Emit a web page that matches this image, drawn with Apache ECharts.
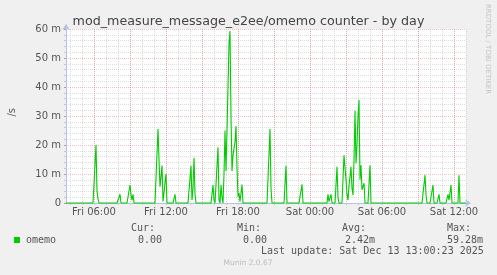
<!DOCTYPE html>
<html>
<head>
<meta charset="utf-8">
<script src="https://cdn.jsdelivr.net/npm/echarts@6/dist/echarts.min.js"></script>
<style>
html,body{margin:0;padding:0;background:#f0f0f0;}
#c{width:497px;height:275px;}
</style>
</head>
<body>
<div id="c"></div>
<script>
// ---- data (values in milli-units per second, "m") ----
const startHour = 3 + 40 / 60;      // Fri 03:40, hours from Fri 00:00
const endHour = 37;                 // Sat 13:00
const stepMinutes = 5;              // one sample every 5 minutes
const spikeSteps = [30,31,32,54,64,65,66,67,92,93,94,95,96,97,98,99,100,109,125,126,127,128,129,
  147,148,152,153,155,156,158,159,160,161,162,163,164,165,166,167,168,169,170,171,172,173,174,176,
  204,205,220,236,262,263,264,265,271,272,278,279,280,281,282,283,284,285,286,287,288,289,290,291,
  292,293,294,295,296,297,298,304,359,360,367,373,382,383,384,385,393];
const spikeValues = [20,4,1.5,3,6.2,3,1,3,25.5,15,5.6,9,12.9,0.5,3.5,7,10,3,12.8,1,5,15.6,3,
  6.2,1,19.2,1,6.2,2,10,25,11,25,40,55,59.28,30,11,16.5,17,21,26.5,12,2.2,3.4,0.5,6.4,
  25.5,5,12.8,6.4,3,0.5,1,3,12.5,2,16.5,16,8,3,1,6,9,12.5,5,2.8,15,31.8,13.6,20,
  30,35.5,8,13,4.5,5,6.8,13,9.6,3,6.2,3,3,1,1,6.2,9.6];
const labelHours = [6, 12, 18, 24, 30, 36];
const labelTexts = ['Fri 06:00', 'Fri 12:00', 'Fri 18:00', 'Sat 00:00', 'Sat 06:00', 'Sat 12:00'];
const majorGridHours = [6, 9, 12, 15, 18, 21, 24, 27, 30, 33, 36];
const minorGridHours = [4,5,6,7,8,9,10,11,12,13,14,15,16,17,18,19,20,21,22,23,24,25,26,27,28,29,30,31,32,33,34,35,36,37];
const statHeads = ['Cur:', 'Min:', 'Avg:', 'Max:'];
const statValues = ['0.00', '0.00', '2.42m', '59.28m'];
const seriesName = 'omemo';
const titleText = 'mod_measure_message_e2ee/omemo counter - by day';
const lastUpdate = 'Last update: Sat Dec 13 13:00:23 2025';

// ---- build series ----
const totalSteps = Math.round((endHour - startHour) * 60 / stepMinutes);
const values = new Array(totalSteps + 1).fill(0);
spikeSteps.forEach((s, k) => { values[s] = spikeValues[k]; });
const seriesData = values.map((v, i) => [startHour + i * stepMinutes / 60, v]);

const chart = echarts.init(document.getElementById('c'), null, {renderer: 'canvas'});
const sans = 'DejaVu Sans';
const mono = 'DejaVu Sans Mono';
const txtColor = '#555';
const axisBlue = '#b4bfee';
const minorGrid = {color: 'rgba(150,150,150,0.32)', type: [1, 1], width: 1};
const majorGrid = {color: 'rgba(225,100,100,0.42)', type: [1, 1], width: 1};

const statX = [131, 237, 342, 447];
const valX = [138, 243, 345, 447];
const graphics = [
  {type: 'text', left: 7, top: 108, rotation: Math.PI / 2, style: {text: '/s', font: '10px ' + sans, fill: txtColor}},
  {type: 'text', x: 491, y: 4, rotation: -Math.PI / 2, style: {text: 'RRDTOOL / TOBI OETIKER', font: '7px ' + sans, fill: '#c4c4c4'}},
  {type: 'rect', shape: {x: 14, y: 237, width: 6, height: 6}, style: {fill: '#00cc00'}},
  {type: 'text', x: 26, y: 240, style: {text: seriesName, font: '10px ' + mono, fill: txtColor, verticalAlign: 'middle'}},
  {type: 'text', x: 261, y: 251, style: {text: lastUpdate, font: '10px ' + mono, fill: txtColor, verticalAlign: 'middle'}},
  {type: 'text', x: 248, y: 263, style: {text: 'Munin 2.0.67', font: '7.5px ' + sans, fill: '#bbbbbb', align: 'center', verticalAlign: 'middle'}}
];
statHeads.forEach((h, k) => {
  graphics.push({type: 'text', x: statX[k], y: 228, style: {text: h, font: '10px ' + mono, fill: txtColor, verticalAlign: 'middle'}});
  graphics.push({type: 'text', x: valX[k], y: 240, style: {text: statValues[k], font: '10px ' + mono, fill: txtColor, verticalAlign: 'middle'}});
});

chart.setOption({
  backgroundColor: '#f0f0f0',
  animation: false,
  title: {
    text: titleText, left: 'center', top: 10,
    textStyle: {fontFamily: sans, fontSize: 12.7, fontWeight: 'normal', color: '#444'}
  },
  grid: {left: 66, right: 31, top: 29, bottom: 72, show: true, backgroundColor: '#ffffff', borderWidth: 0},
  xAxis: [
    {
      type: 'value', min: startHour, max: endHour, position: 'bottom',
      axisLine: {show: true, onZero: false, lineStyle: {color: axisBlue, width: 1}, symbol: ['none', 'arrow'], symbolSize: [6, 6], symbolOffset: [0, 5]},
      axisTick: {show: true, customValues: minorGridHours, length: 2, lineStyle: {color: '#c8c8c8'}},
      axisLabel: {
        customValues: labelHours, margin: 4,
        formatter: v => { const k = labelHours.indexOf(Math.round(v)); return k >= 0 ? labelTexts[k] : ''; },
        fontFamily: sans, fontSize: 10, color: txtColor
      },
      splitLine: {show: true, lineStyle: minorGrid}
    },
    {
      type: 'value', min: startHour, max: endHour, position: 'bottom',
      axisLine: {show: false}, axisLabel: {show: false},
      axisTick: {show: false, customValues: majorGridHours},
      splitLine: {show: true, lineStyle: majorGrid}
    }
  ],
  yAxis: {
    type: 'value', min: 0, max: 60, interval: 10,
    axisLine: {show: true, lineStyle: {color: axisBlue, width: 1}, symbol: ['none', 'arrow'], symbolSize: [6, 6], symbolOffset: [0, 5]},
    axisTick: {show: true, length: 2, lineStyle: {color: '#d09090'}},
    minorTick: {show: true, splitNumber: 5, length: 2, lineStyle: {color: '#c8c8c8'}},
    axisLabel: {formatter: v => v === 0 ? '0' : v + ' m', fontFamily: sans, fontSize: 10, color: txtColor, margin: 5},
    splitLine: {show: true, lineStyle: majorGrid},
    minorSplitLine: {show: true, lineStyle: minorGrid}
  },
  series: [{
    name: seriesName, type: 'line', xAxisIndex: 0, data: seriesData,
    showSymbol: false, clip: false, z: 5,
    lineStyle: {color: '#00cc00', width: 1.1}, itemStyle: {color: '#00cc00'}
  }],
  graphic: graphics
});
</script>
</body>
</html>
